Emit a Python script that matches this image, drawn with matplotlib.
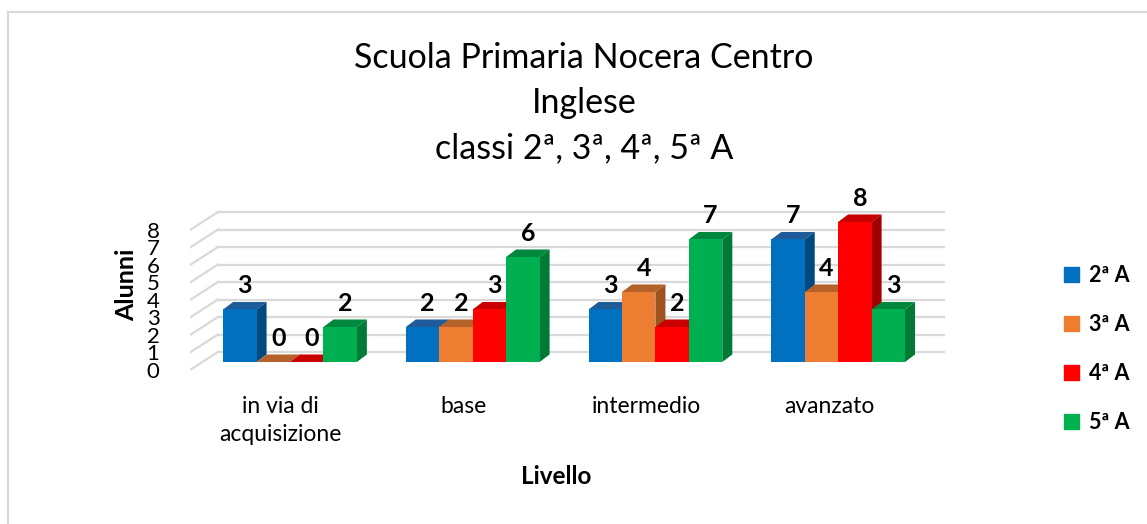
import numpy as np
import matplotlib.pyplot as plt
from matplotlib.patches import Polygon

plt.rcParams['font.family'] = ['Lato', 'DejaVu Sans']

# data
categories = ["in via di\nacquisizione", "base", "intermedio", "avanzato"]
classi = ["2ª A", "3ª A", "4ª A", "5ª A"]
classe_2a = [3, 2, 3, 7]
classe_3a = [0, 2, 4, 4]
classe_4a = [0, 3, 2, 8]
classe_5a = [2, 6, 7, 3]
yticks = [0, 1, 2, 3, 4, 5, 6, 7, 8]

series = [classe_2a, classe_3a, classe_4a, classe_5a]
front_cols = ["#0070C0", "#ED7D31", "#FF0000", "#00B050"]
top_cols = ["#1F5C99", "#B4622A", "#C80000", "#00893E"]
side_cols = ["#00497F", "#9E521E", "#A00000", "#007A35"]

W, H = 1147, 524
fig = plt.figure(figsize=(W / 100, H / 100), dpi=100)

# chart border (top and left edges visible)
fig.add_artist(plt.Line2D([8 / W, 1], [1 - 12 / H, 1 - 12 / H], color="#d9d9d9", lw=1.5))
fig.add_artist(plt.Line2D([8 / W, 8 / W], [0, 1 - 12 / H], color="#d9d9d9", lw=1.5))

ax = fig.add_axes([190 / W, (H - 370) / H, 755 / W, 171 / H])
ax.set_xlim(-0.547, 3.585)
ax.set_ylim(-0.457, 9.314)
for s in ax.spines.values():
    s.set_visible(False)

# walls: back wall gridlines and left wall diagonals
back_off = 0.571
front_off = -0.457
x_front, x_back = -0.547, -0.394
for v in yticks:
    ax.plot([x_back, 3.585], [v + back_off, v + back_off], color="#d9d9d9", lw=1.6, zorder=0)
    ax.plot([x_front, x_back], [v + front_off, v + back_off], color="#d9d9d9", lw=1.6, zorder=0)

width = 0.183
dx, dy = 0.055, 0.43
x = np.arange(len(categories))
for i, vals in enumerate(series):
    xs = x + (i - 1.5) * width
    bars = ax.bar(xs, vals, width, color=front_cols[i], zorder=3 + i * 2, linewidth=0)
    for b, v in zip(bars, vals):
        x0 = b.get_x()
        x1 = x0 + width
        top = Polygon([(x0, v), (x0 + dx, v + dy), (x1 + dx, v + dy), (x1, v)],
                      closed=True, facecolor=top_cols[i], edgecolor="none", zorder=2 + i * 2)
        side = Polygon([(x1, 0), (x1 + dx, dy), (x1 + dx, v + dy), (x1, v)],
                       closed=True, facecolor=side_cols[i], edgecolor="none", zorder=2 + i * 2)
        ax.add_patch(top)
        ax.add_patch(side)
        ax.annotate(str(v), (x0 + width / 2 + dx / 2, v), xytext=(0, 17),
                    textcoords="offset points", ha="center", va="center",
                    fontsize=18, fontweight="bold", zorder=20)

ax.set_yticks(np.array(yticks) + front_off)
ax.set_yticklabels([str(v) for v in yticks], fontsize=16)
ax.tick_params(axis="y", length=0, pad=22)
ax.set_xticks(x - 0.05)
ax.set_xticklabels(categories, fontsize=16.5, linespacing=1.4)
ax.tick_params(axis="x", length=0, pad=19)

ax.set_ylabel("Alunni", fontsize=18, fontweight="bold", labelpad=6)
fig.text(556 / W, 1 - 477 / H, "Livello", fontsize=17.5, fontweight="bold", ha="center", va="center")

fig.text(584 / W, 1 - 58 / H, "Scuola Primaria Nocera Centro", fontsize=24.5, ha="center", va="center")
fig.text(584 / W, 1 - 103 / H, "Inglese", fontsize=24.5, ha="center", va="center")
fig.text(584 / W, 1 - 148 / H, "classi 2ª, 3ª, 4ª, 5ª A", fontsize=24.5, ha="center", va="center")

# legend
handles = [plt.Rectangle((0, 0), 1, 1, color=c) for c in front_cols]
leg = fig.legend(handles, classi, loc="center left", bbox_to_anchor=(1045 / W, 1 - 349 / H),
                 frameon=False, handlelength=0.7, handleheight=0.7, labelspacing=1.3,
                 handletextpad=0.45, prop={"size": 15.5, "weight": "bold"})

fig.savefig("out.png", dpi=100)
